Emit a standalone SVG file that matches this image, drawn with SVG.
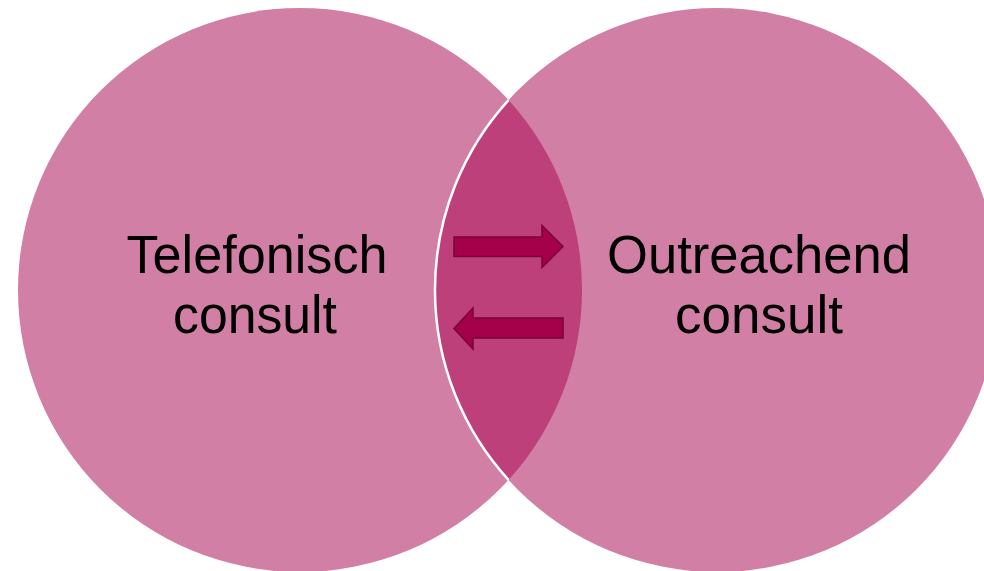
<svg xmlns="http://www.w3.org/2000/svg" width="984" height="571" viewBox="0 0 984 571">
  <style>
    .circle { fill: #D17FA5; }
    .lens { fill: #BD407A; }
    .label { font-family: "Liberation Sans", Arial, sans-serif; font-size: 53px; fill: #000000; text-anchor: middle; }
    .arrow { fill: #A5004A; stroke: #7A0035; stroke-width: 1.5; stroke-linejoin: miter; }
  </style>
  <rect width="984" height="571" fill="#FFFFFF"/>
  <g id="node-telefonisch">
    <circle class="circle" cx="300" cy="290" r="282"/>
    <text class="label" x="257" y="273" textLength="261" lengthAdjust="spacingAndGlyphs">Telefonisch</text>
    <text class="label" x="255" y="333" textLength="164" lengthAdjust="spacingAndGlyphs">consult</text>
  </g>
  <g id="node-outreachend">
    <circle class="circle" cx="717" cy="290" r="282"/>
    <text class="label" x="759" y="273" textLength="304" lengthAdjust="spacingAndGlyphs">Outreachend</text>
    <text class="label" x="759" y="333" textLength="168" lengthAdjust="spacingAndGlyphs">consult</text>
  </g>
  <g id="overlap">
    <path class="lens" d="M508.5,100.1 A282,282 0 0 1 508.5,479.9 A282,282 0 0 1 508.5,100.1 Z"/>
    <path d="M508.5,100.1 A282,282 0 0 0 508.5,479.9" fill="none" stroke="#FFFFFF" stroke-width="2.5"/>
  </g>
  <g id="connectors">
    <polygon class="arrow" points="454,237 542,237 542,225.5 563,246.5 542,267.5 542,256.5 454,256.5"/>
    <polygon class="arrow" points="563,318 473,318 473,308 454,328.5 473,349 473,338 563,338"/>
  </g>
</svg>
